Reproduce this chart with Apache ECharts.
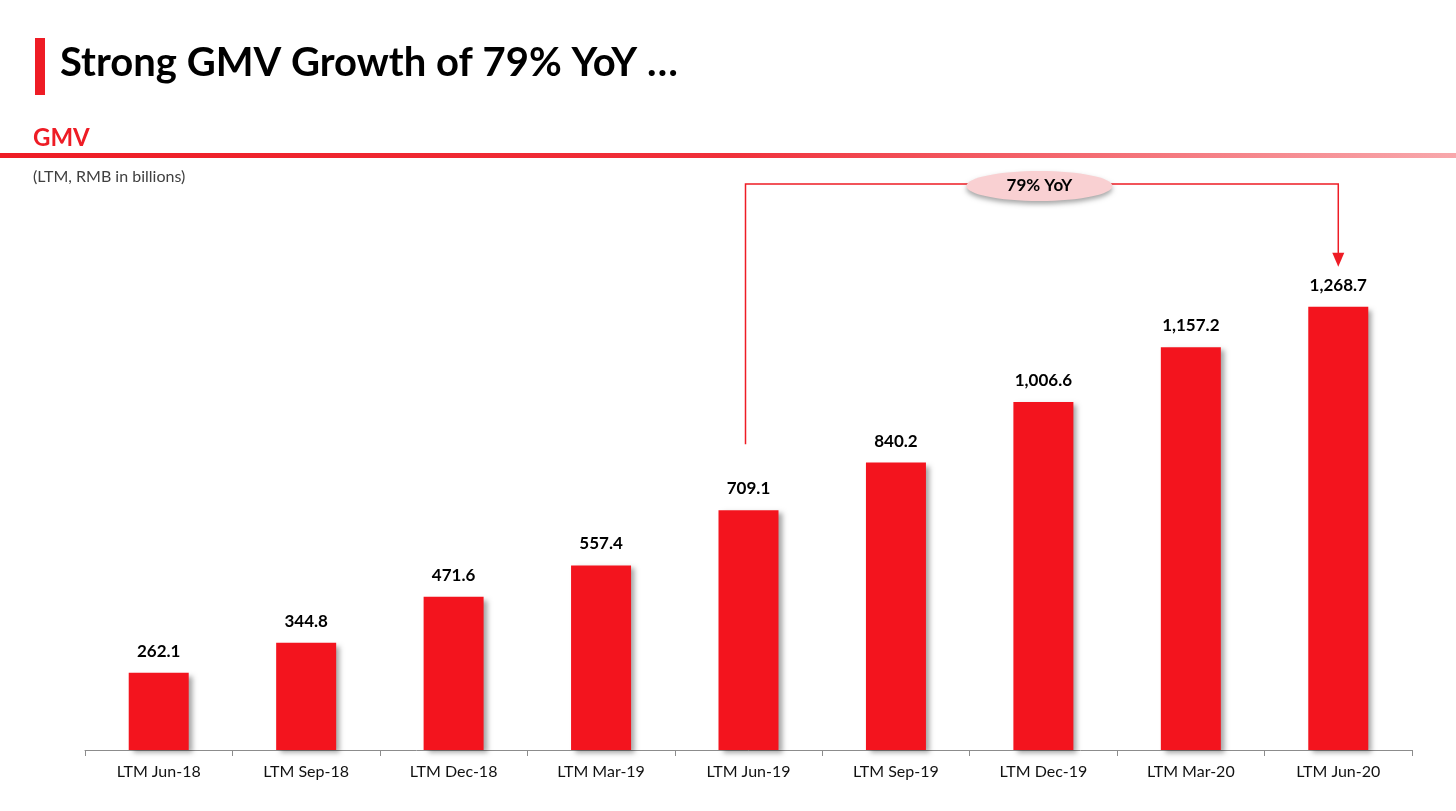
<!DOCTYPE html>
<html><head><meta charset="utf-8">
<script src="https://cdn.jsdelivr.net/npm/echarts@6/dist/echarts.min.js"></script>
<style>html,body{margin:0;padding:0;background:#fff}#c{width:1456px;height:811px}</style>
</head><body><div id="c"></div>
<script>
const categories = ['LTM Jun-18','LTM Sep-18','LTM Dec-18','LTM Mar-19','LTM Jun-19','LTM Sep-19','LTM Dec-19','LTM Mar-20','LTM Jun-20'];
const gmvValues = [262.1, 344.8, 471.6, 557.4, 709.1, 840.2, 1006.6, 1157.2, 1268.7];
const yoyLabel = '79% YoY';
const FONT = 'Lato, "Open Sans", sans-serif';
const chart = echarts.init(document.getElementById('c'));
const fmt = v => v.toLocaleString('en-US', {minimumFractionDigits:1, maximumFractionDigits:1});
const option = {
  animation: false,
  grid: {left: 85, right: 44, top: 259, bottom: 61},
  xAxis: {type:'category', data: categories,
    axisLine:{lineStyle:{color:'#8c8c8c', width:1}},
    axisTick:{show:true, lineStyle:{color:'#8c8c8c'}, length:6},
    axisLabel:{color:'#111', fontSize:16, fontFamily:FONT, margin:14}},
  yAxis: {type:'value', min:50, max:1400, show:false, splitLine:{show:false}},
  series: [{type:'bar', data: gmvValues, barWidth: 60,
    itemStyle:{color:'#F3141E', shadowColor:'rgba(0,0,0,0.35)', shadowBlur:5, shadowOffsetX:4, shadowOffsetY:3},
    label:{show:true, position:'top', distance:13, color:'#000', fontWeight:'bold', fontSize:17, fontFamily:FONT, formatter:p=>fmt(p.value)}}],
  graphic: [
    {type:'rect', shape:{x:35, y:38, width:10, height:57}, style:{fill:'#EE1C25'}},
    {type:'text', left:60, top:43, style:{text:'Strong GMV Growth of 79% YoY …', font:'bold 40px '+FONT, fill:'#000'}},
    {type:'text', left:33, top:126, style:{text:'GMV', font:'bold 24px '+FONT, fill:'#EE1C25'}},
    {type:'rect', shape:{x:0, y:153, width:1456, height:5}, style:{fill:new echarts.graphic.LinearGradient(0,0,1,0,[{offset:0,color:'#EE1C25'},{offset:0.5,color:'#F0303A'},{offset:1,color:'#F8A8AC'}])}},
    {type:'text', left:33, top:169, style:{text:'(LTM, RMB in billions)', font:'16px '+FONT, fill:'#404040'}}
  ]
};
chart.setOption(option);
const p0 = chart.convertToPixel({seriesIndex:0}, [4, gmvValues[4]]);
const p1 = chart.convertToPixel({seriesIndex:0}, [8, gmvValues[8]]);
const topY = 184;
const midX = (p0[0]+p1[0])/2 - 4;
chart.setOption({graphic: option.graphic.concat([
  {type:'polyline', shape:{points:[[p0[0]-3, p0[1]-66],[p0[0]-3, topY],[p1[0], topY],[p1[0], p1[1]-50]]}, style:{stroke:'#EE1C25', lineWidth:1.5, fill:null}},
  {type:'polygon', shape:{points:[[p1[0]-6, p1[1]-54],[p1[0]+6, p1[1]-54],[p1[0], p1[1]-40]]}, style:{fill:'#EE1C25'}},
  {type:'ellipse', shape:{cx:midX, cy:topY+2, rx:73, ry:15}, style:{fill:'#F9D0D2', shadowColor:'rgba(0,0,0,0.35)', shadowBlur:5, shadowOffsetY:3}},
  {type:'text', x:midX, y:topY+2, style:{text:yoyLabel, font:'bold 17px '+FONT, fill:'#000', align:'center', verticalAlign:'middle'}}
])});
</script></body></html>
